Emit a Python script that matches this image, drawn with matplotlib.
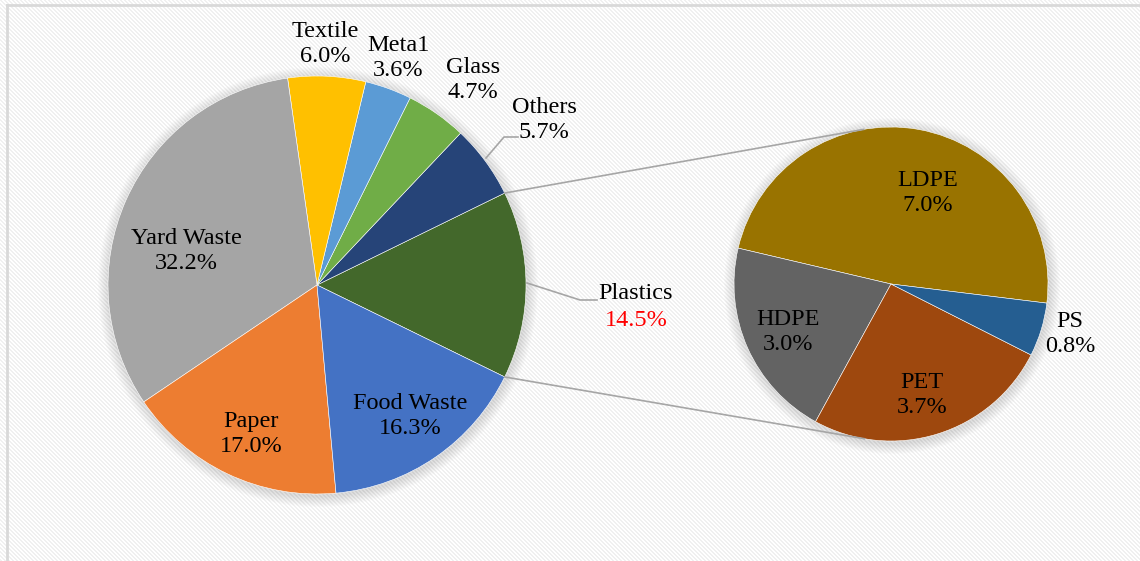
import numpy as np
import matplotlib.pyplot as plt
from matplotlib.patches import Circle

# main pie (Excel "pie of pie"), order counter-clockwise from the right side
main_labels = ["Plastics", "Others", "Glass", "Meta1", "Textile", "Yard Waste", "Paper", "Food Waste"]
main_values = [14.5, 5.7, 4.7, 3.6, 6.0, 32.2, 17.0, 16.3]
main_colors = ["#43682B", "#264478", "#70AD47", "#5B9BD5", "#FFC000", "#A5A5A5", "#ED7D31", "#4472C4"]

# breakdown of plastics
sub_labels = ["LDPE", "HDPE", "PET", "PS"]
sub_values = [7.0, 3.0, 3.7, 0.8]
sub_colors = ["#997300", "#636363", "#9E480E", "#255E91"]

W, H = 1140, 561
plt.rcParams['font.family'] = 'serif'
plt.rcParams['font.serif'] = ['Liberation Serif', 'Times New Roman', 'DejaVu Serif']

fig = plt.figure(figsize=(W / 100, H / 100), dpi=100)

# hatched background
bg = fig.add_axes([0, 0, 1, 1])
rows, cols = np.mgrid[0:H, 0:W]
pattern = np.where((cols - rows) % 4 < 2, 0.945, 1.0)
bg.imshow(np.dstack([pattern] * 3), extent=[0, W, H, 0], interpolation='nearest', aspect='auto')
bg.plot([7, 7], [H, 5], color='#D9D9D9', lw=2)
bg.plot([7, W], [5, 5], color='#D9D9D9', lw=2)
bg.set_xlim(0, W)
bg.set_ylim(H, 0)
bg.axis('off')

ax = fig.add_axes([0, 0, 1, 1])
ax.patch.set_alpha(0)

c1, r1 = (317, 276), 209
c2, r2 = (891, 277), 157

# soft shadows
for c, r in [(c1, r1), (c2, r2)]:
    for k in range(1, 12):
        ax.add_patch(Circle((c[0] + 1, c[1] - 2), r + k, color='black', alpha=0.013, lw=0, zorder=0))

tot = sum(main_values)
start1 = -main_values[0] / tot * 360 / 2
ax.pie(main_values, colors=main_colors, center=c1, radius=r1, startangle=start1,
       counterclock=True, wedgeprops=dict(linewidth=0.4, edgecolor='white'), frame=True)
ax.pie(sub_values, colors=sub_colors, center=c2, radius=r2, startangle=-7,
       counterclock=True, wedgeprops=dict(linewidth=0.4, edgecolor='white'), frame=True)
ax.set_xlim(0, W)
ax.set_ylim(0, H)
ax.set_aspect('equal')
ax.axis('off')

# connector lines from plastics wedge to tangent points of the second pie
for sgn in (1, -1):
    a = np.deg2rad(sgn * -start1)
    p = np.array([c1[0] + r1 * np.cos(a), c1[1] + r1 * np.sin(a)])
    d = p - np.array(c2)
    dist = np.hypot(*d)
    phi = np.arctan2(d[1], d[0])
    t = phi - sgn * np.arccos(r2 / dist)
    q = (c2[0] + r2 * np.cos(t), c2[1] + r2 * np.sin(t))
    ax.plot([p[0], q[0]], [p[1], q[1]], color='#A6A6A6', lw=1.2, zorder=5)

# label centres in pixel coords (y down)
main_pos = {"Others": (544, 120), "Glass": (473, 80), "Meta1": (398, 58),
            "Textile": (325, 44), "Yard Waste": (186, 251), "Paper": (251, 434),
            "Food Waste": (410, 416)}
sub_pos = {"LDPE": (928, 193), "HDPE": (788, 332), "PET": (922, 395), "PS": (1070, 334)}

fs = 17.5
for lab, v in zip(main_labels, main_values):
    if lab == "Plastics":
        ax.text(636, H - 293, lab, ha='center', va='center', fontsize=fs, zorder=6)
        ax.text(636, H - 320, f"{v:.1f}%", ha='center', va='center', fontsize=fs, color='red', zorder=6)
        continue
    x, y = main_pos[lab]
    ax.text(x, H - y, f"{lab}\n{v:.1f}%", ha='center', va='center', fontsize=fs, zorder=6)
for lab, v in zip(sub_labels, sub_values):
    x, y = sub_pos[lab]
    ax.text(x, H - y, f"{lab}\n{v:.1f}%", ha='center', va='center', fontsize=fs, zorder=6)

# leader lines
ax.plot([486, 504, 518], [H - 158, H - 137, H - 137], color='#A6A6A6', lw=1.2, zorder=5)
ax.plot([527, 580, 597], [H - 283, H - 300, H - 300], color='#A6A6A6', lw=1.2, zorder=5)

fig.savefig("out.png", dpi=100)
